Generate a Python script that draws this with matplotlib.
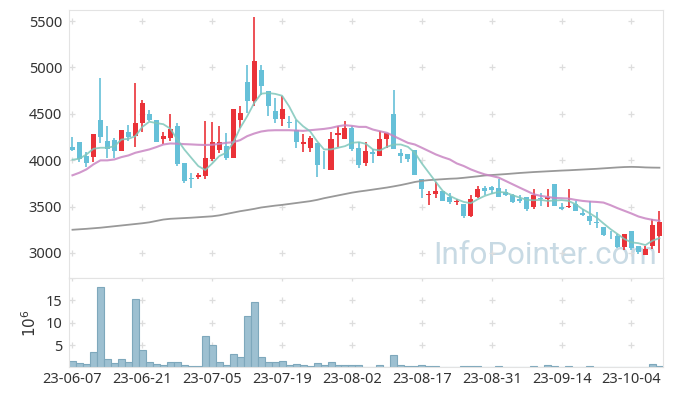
import numpy as np
import matplotlib
matplotlib.use('Agg')
import matplotlib.pyplot as plt

plt.rcParams['font.family'] = ['Noto Sans', 'DejaVu Sans']

# DATA (one entry per trading day)
opens = [4141, 4191, 4044, 4033, 4438, 4212, 4216, 4098, 4309, 4259,
         4398, 4502, 4438, 4223, 4237, 4373, 3965, 3804, 3819, 3829,
         4008, 4108, 4151, 4023, 4438, 4845, 4634, 4974, 4749, 4534,
         4448, 4416, 4320, 4173, 4130, 4180, 3919, 3894, 4269, 4227,
         4352, 4130, 3973, 4087, 4044, 4223, 4502, 4080, 4062, 4105,
         3794, 3622, 3640, 3665, 3601, 3550, 3525, 3400, 3604, 3697,
         3708, 3697, 3661, 3622, 3579, 3608, 3490, 3597, 3583, 3740,
         3497, 3490, 3525, 3429, 3400, 3336, 3275, 3186, 3182, 3068,
         3236, 3075, 2982, 3071, 3186]
highs = [4248, 4201, 4087, 4287, 4885, 4373, 4241, 4330, 4380, 4835,
         4652, 4545, 4438, 4302, 4498, 4402, 3965, 3865, 3858, 4427,
         4416, 4366, 4295, 4556, 4581, 5028, 5546, 5028, 4749, 4670,
         4688, 4481, 4438, 4284, 4266, 4180, 4098, 4309, 4366, 4427,
         4373, 4194, 4194, 4116, 4312, 4298, 4760, 4116, 4062, 4105,
         3794, 3669, 3769, 3665, 3651, 3579, 3525, 3622, 3722, 3722,
         3722, 3801, 3686, 3633, 3622, 3608, 3694, 3651, 3694, 3740,
         3543, 3686, 3561, 3472, 3561, 3436, 3275, 3239, 3204, 3204,
         3236, 3075, 3078, 3364, 3454]
lows = [4098, 3980, 3922, 3983, 4187, 4026, 4019, 4098, 4205, 4144,
        4305, 4420, 4194, 4176, 4212, 3937, 3751, 3704, 3801, 3794,
        3987, 4073, 4001, 4023, 4348, 4509, 4588, 4706, 4481, 4402,
        4366, 4348, 4134, 4087, 4087, 3822, 3908, 3894, 4137, 4227,
        4098, 3915, 3937, 3973, 4044, 4134, 4116, 3973, 3980, 3840,
        3597, 3518, 3593, 3561, 3533, 3515, 3379, 3390, 3593, 3622,
        3633, 3604, 3615, 3543, 3543, 3454, 3479, 3508, 3490, 3508,
        3461, 3486, 3447, 3393, 3300, 3264, 3178, 3150, 3050, 3035,
        3035, 2989, 2982, 3043, 2999]
closes = [4108, 4016, 3965, 4287, 4248, 4123, 4098, 4330, 4248, 4405,
          4620, 4430, 4194, 4266, 4341, 3955, 3772, 3793, 3840, 4019,
          4191, 4201, 4023, 4556, 4509, 4634, 5064, 4802, 4588, 4448,
          4556, 4398, 4194, 4201, 4237, 3948, 3912, 4223, 4298, 4352,
          4116, 3948, 4101, 4066, 4223, 4298, 4116, 4041, 4008, 3840,
          3686, 3640, 3665, 3561, 3550, 3561, 3393, 3579, 3686, 3665,
          3676, 3604, 3629, 3554, 3558, 3472, 3622, 3579, 3601, 3508,
          3475, 3508, 3454, 3407, 3339, 3318, 3196, 3178, 3068, 3204,
          3053, 3007, 3043, 3300, 3329]
volumes = [1.4, 0.95, 0.7, 3.35, 17.9, 2.0, 0.95, 1.8, 1.2, 15.2,
           4.0, 1.2, 0.7, 0.5, 1.2, 1.2, 0.5, 0.3, 0.3, 7.1,
           5.1, 1.2, 0.5, 3.1, 2.3, 11.5, 14.7, 2.3, 1.2, 1.2,
           1.4, 0.5, 0.7, 0.5, 0.3, 0.95, 0.5, 1.2, 0.45, 0.45,
           0.45, 0.45, 0.2, 0.2, 0.5, 0.2, 2.9, 0.5, 0.3, 0.3,
           0.5, 0.3, 0.3, 0.1, 0.05, 0.05, 0.3, 0.3, 0.3, 0.05,
           0.05, 0.3, 0.05, 0.05, 0.05, 0.05, 0.3, 0.1, 0.5, 0.3,
           0.1, 0.3, 0.05, 0.05, 0.3, 0.05, 0.05, 0.05, 0.05, 0.05,
           0.05, 0.05, 0.05, 0.75, 0.3]  # millions
ma5 = [4005, 4016, 4062, 4123, 4134, 4134, 4150, 4223, 4230, 4259,
       4359, 4415, 4400, 4388, 4340, 4223, 4116, 4026, 3937, 3894,
       3965, 4044, 4080, 4187, 4348, 4473, 4616, 4717, 4724, 4715,
       4695, 4581, 4438, 4366, 4312, 4205, 4116, 4116, 4134, 4151,
       4187, 4194, 4176, 4116, 4105, 4144, 4169, 4169, 4144, 4080,
       3965, 3865, 3765, 3668, 3615, 3579, 3550, 3536, 3579, 3615,
       3640, 3658, 3651, 3622, 3597, 3572, 3568, 3572, 3561, 3565,
       3570, 3561, 3525, 3472, 3429, 3382, 3318, 3257, 3204, 3150,
       3114, 3105, 3085, 3132, 3160]
ma20 = [3837, 3865, 3901, 3955, 3998, 3998, 4008, 4033, 4051, 4080,
        4098, 4116, 4141, 4169, 4180, 4178, 4173, 4170, 4166, 4164,
        4166, 4176, 4187, 4194, 4216, 4259, 4287, 4309, 4320, 4323,
        4323, 4323, 4320, 4316, 4323, 4330, 4337, 4348, 4366, 4377,
        4370, 4359, 4359, 4330, 4312, 4295, 4259, 4223, 4187, 4169,
        4134, 4098, 4062, 4033, 4008, 3965, 3937, 3901, 3872, 3847,
        3830, 3812, 3776, 3740, 3704, 3669, 3633, 3615, 3604, 3593,
        3590, 3586, 3572, 3561, 3554, 3550, 3543, 3515, 3483, 3454,
        3425, 3393, 3372, 3357, 3347]
ma120 = [3250, 3255, 3260, 3266, 3272, 3280, 3288, 3296, 3304, 3312,
         3320, 3330, 3345, 3360, 3368, 3372, 3376, 3380, 3385, 3390,
         3395, 3405, 3420, 3435, 3450, 3462, 3475, 3490, 3500, 3510,
         3518, 3528, 3538, 3548, 3558, 3572, 3590, 3605, 3620, 3635,
         3650, 3662, 3672, 3683, 3694, 3705, 3718, 3732, 3748, 3765,
         3777, 3785, 3790, 3795, 3800, 3803, 3810, 3818, 3826, 3835,
         3840, 3845, 3850, 3856, 3862, 3867, 3872, 3876, 3880, 3884,
         3888, 3891, 3895, 3899, 3903, 3907, 3912, 3917, 3922, 3926,
         3928, 3926, 3922, 3920, 3919]
date_ticks = [0, 10, 20, 30, 40, 50, 60, 70, 80]
date_labels = ['23-06-07', '23-06-21', '23-07-05', '23-07-19', '23-08-02',
               '23-08-17', '23-08-31', '23-09-14', '23-10-04']
price_ticks = [3000, 3500, 4000, 4500, 5000, 5500]
vol_ticks = [5, 10, 15]

UP = '#ea3238'
DOWN = '#66c0d8'
GRID = '#dddddd'
FRAME = '#e3e3e3'
TXT = '#333333'

o = np.array(opens)
c = np.array(closes)
h = np.array(highs)
l = np.array(lows)
x = np.arange(len(o))
up = c >= o
cols = np.where(up, UP, DOWN)

fig = plt.figure(figsize=(6.73, 3.96), dpi=100)
ax = fig.add_axes([0.1025, 0.298, 0.8825, 0.677])
axv = fig.add_axes([0.1025, 0.072, 0.8825, 0.226])

# PRICE PANEL
ax.text(0.99, 0.03, 'InfoPointer.com', transform=ax.transAxes, ha='right', va='bottom',
        fontsize=22.5, color='#c8dae4', family='Roboto', zorder=0)
ax.vlines(x, l, h, colors=cols, linewidth=1.2, zorder=2)
body_bottom = np.minimum(o, c)
body_h = np.maximum(np.abs(c - o), 8)
ax.bar(x, body_h, bottom=body_bottom, width=0.72, color=cols, linewidth=0, zorder=3)
ax.plot(x, ma120, color='#999999', linewidth=1.3, zorder=4)
ax.plot(x, ma20, color='#c986c3', linewidth=1.5, alpha=0.85, zorder=4)
ax.plot(x, ma5, color='#7fc7bb', linewidth=1.3, alpha=0.85, zorder=4)

gx, gy = np.meshgrid(date_ticks, price_ticks)
ax.plot(gx.ravel(), gy.ravel(), '+', color=GRID, markersize=5, markeredgewidth=0.9, zorder=1)

ax.set_xlim(-0.5, len(o) - 0.5)
ax.set_ylim(2730, 5620)
ax.set_yticks(price_ticks)
ax.set_xticks([])
ax.tick_params(axis='y', length=0, pad=5, labelsize=10.5, labelcolor=TXT)
for s in ax.spines.values():
    s.set_color(FRAME)

# VOLUME PANEL
axv.bar(x, volumes, width=1.0, color='#9dc0d1', edgecolor='#7ea8bc', linewidth=0.8, zorder=2)
vx, vy = np.meshgrid(date_ticks, vol_ticks + [20])
axv.plot(vx.ravel(), vy.ravel(), '+', color=GRID, markersize=5, markeredgewidth=0.9, zorder=1)
axv.set_xlim(-0.5, len(o) - 0.5)
axv.set_ylim(0, 20)
axv.set_yticks(vol_ticks)
axv.set_xticks(date_ticks)
axv.set_xticklabels(date_labels)
axv.tick_params(length=0, labelsize=10.5, labelcolor=TXT)
axv.tick_params(axis='y', pad=5)
axv.tick_params(axis='x', pad=3)
axv.set_ylabel(r'$10^6$', fontsize=11, color=TXT, labelpad=4)
for s in axv.spines.values():
    s.set_color(FRAME)

fig.savefig('out.png', dpi=100)
